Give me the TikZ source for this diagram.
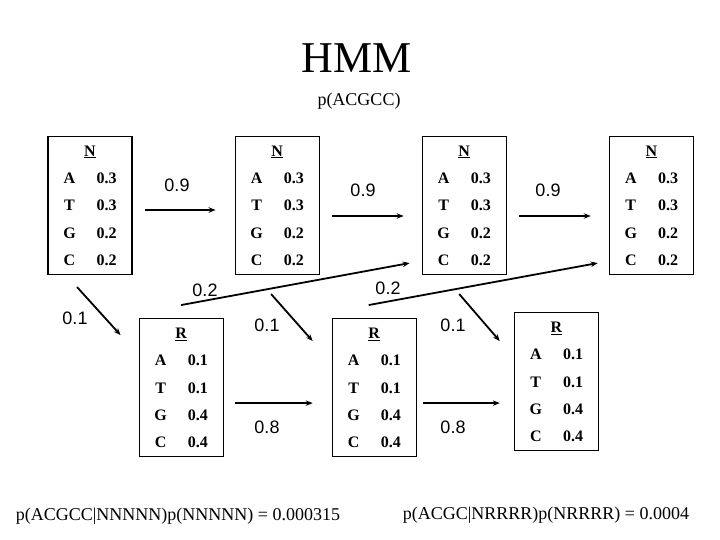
\documentclass[tikz,border=0pt]{standalone}
\usepackage{fontspec}
\setmainfont{Liberation Serif}
\newfontfamily\labelfont{Liberation Sans}
\usetikzlibrary{arrows.meta, positioning}

% emission table of one state: name, then A T G C
\newcommand{\statetable}[5]{%
  \renewcommand{\arraystretch}{1.44}%
  \begin{tabular}{@{}c@{\hspace{21pt}}c@{}}
    \multicolumn{2}{c}{\underline{#1}}\\
    A & #2\\
    T & #3\\
    G & #4\\
    C & #5
  \end{tabular}}

\begin{document}
\begin{tikzpicture}[x=1pt, y=-1pt,
  state/.style={rectangle, draw, line width=1.1pt, inner sep=0pt,
                minimum width=84pt, minimum height=138pt,
                font=\fontsize{16}{19}\selectfont\bfseries},
  prob/.style={font=\labelfont\fontsize{18}{21}\selectfont, inner sep=1pt},
  arr/.style={-{Stealth[length=7pt, width=5.5pt]}, line width=1.8pt},
  txt/.style={font=\fontsize{18}{21}\selectfont, inner sep=0pt},
]
\useasboundingbox (0,0) rectangle (720,540);

\node[font=\fontsize{44}{48}\selectfont] (title) at (357,58) {HMM};
\node[font=\fontsize{18}{20}\selectfont] (seq) at (359,101) {p(ACGCC)};

% N states
\node[state] (n1) at (90,205.5) {\statetable{N}{0.3}{0.3}{0.2}{0.2}};
\node[state, right=102pt of n1] (n2) {\statetable{N}{0.3}{0.3}{0.2}{0.2}};
\node[state, right=102pt of n2] (n3) {\statetable{N}{0.3}{0.3}{0.2}{0.2}};
\node[state, right=102pt of n3] (n4) {\statetable{N}{0.3}{0.3}{0.2}{0.2}};

% R states
\node[state, below right=43pt and 6pt of n1] (r1) {\statetable{R}{0.1}{0.1}{0.4}{0.4}};
\node[state, right=108pt of r1] (r2) {\statetable{R}{0.1}{0.1}{0.4}{0.4}};
\node[state, right=97pt of r2, yshift=6pt] (r3) {\statetable{R}{0.1}{0.1}{0.4}{0.4}};

% N -> N
\draw[arr, shorten <=12pt, shorten >=19pt] ([yshift=-4.5pt]n1.east) -- ([yshift=-4.5pt]n2.west);
\draw[arr, shorten <=12pt, shorten >=18pt] ([yshift=-10.5pt]n2.east) -- ([yshift=-10.5pt]n3.west);
\draw[arr, shorten <=12pt, shorten >=18pt] ([yshift=-10.5pt]n3.east) -- ([yshift=-10.5pt]n4.west);
\node[prob] (p12) at (177,185) {0.9};
\node[prob] (p23) at (363,190) {0.9};
\node[prob] (p34) at (548,190) {0.9};

% N -> R
\draw[arr] ([xshift=-13pt,yshift=-12pt]n1.south) -- ([xshift=-18pt,yshift=-17pt]r1.north west);
\draw[arr] ([xshift=-6pt,yshift=-19pt]n2.south) -- ([xshift=-19pt,yshift=-23pt]r2.north west);
\draw[arr] ([xshift=-5pt,yshift=-19pt]n3.south) -- ([xshift=-14pt,yshift=-29pt]r3.north west);
\node[prob] (q1) at (75,318) {0.1};
\node[prob] (q2) at (267,325) {0.1};
\node[prob] (q3) at (453,325) {0.1};

% R -> R
\coordinate (r1out) at ([xshift=11pt,yshift=-15.5pt]r1.east);
\draw[arr, shorten >=19pt] (r1out) -- (r1out -| r2.west);
\coordinate (r2out) at ([xshift=6pt,yshift=-15.5pt]r2.east);
\draw[arr, shorten >=14pt] (r2out) -- (r2out -| r3.west);
\node[prob] (s12) at (267,427) {0.8};
\node[prob] (s23) at (453,427) {0.8};

% R -> N
\coordinate (r1up) at ([yshift=13pt]r1.north);
\draw[arr] (r1up) -- ([xshift=-12pt,yshift=12pt]n3.south west);
\coordinate (r2up) at ([xshift=-5.5pt,yshift=13pt]r2.north);
\draw[arr] (r2up) -- ([xshift=-11pt,yshift=12pt]n4.south west);
\node[prob] (t1) at (205,290) {0.2};
\node[prob] (t2) at (388,288) {0.2};

\node[txt] (lik1) at (178,516) {p(ACGCC|NNNNN)p(NNNNN) = 0.000315};
\node[txt] (lik2) at (546,515) {p(ACGC|NRRRR)p(NRRRR) = 0.0004};
\end{tikzpicture}
\end{document}
